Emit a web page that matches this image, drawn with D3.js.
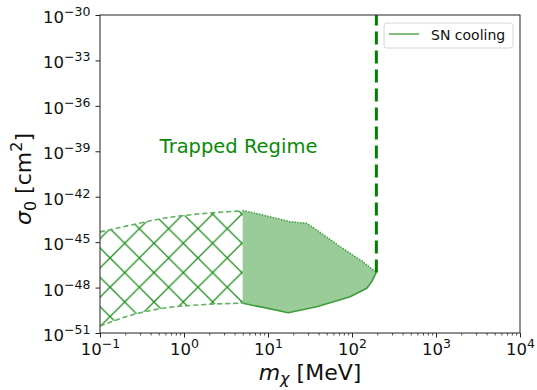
<!DOCTYPE html>
<html>
<head>
<meta charset="utf-8">
<script src="https://cdn.jsdelivr.net/npm/d3@7"></script>
<style>
  body { margin: 0; background: #fff; }
  svg, svg text { font-family: "DejaVu Sans", sans-serif; }
</style>
</head>
<body>
<div id="chart"></div>
<script>
// trapped regime (hatched band)
const trapMass  = [0.1, 0.234, 0.594, 1.47, 5.0];
const trapUpper = [4.7e-45, 1.35e-44, 3.9e-44, 7.2e-44, 1.15e-43];
const trapLower = [2.9e-51, 1.5e-50, 4.5e-50, 7.1e-50, 9.5e-50];

// SN cooling excluded region (filled)
const fillUpperMass = [5.0, 8.7, 18.3, 28.8, 38, 72, 135, 195];
const fillUpper     = [1.23e-43, 6.2e-44, 2.24e-44, 1.74e-44, 6.3e-45, 5.0e-46, 5.1e-47, 1.0e-47];
const fillLowerMass = [5.0, 8.8, 17.4, 38, 95, 150, 171, 195];
const fillLower     = [9.1e-50, 4.9e-50, 2.2e-50, 5.4e-50, 2.5e-49, 8.9e-49, 2.4e-48, 1.0e-47];

const snMass = 195;

const xTicks = [1e-1, 1e0, 1e1, 1e2, 1e3, 1e4];
const yTicks = [1e-51, 1e-48, 1e-45, 1e-42, 1e-39, 1e-36, 1e-33, 1e-30];

const width = 537, height = 390;
const margin = { top: 15, right: 17, bottom: 57, left: 100 };
const iw = width - margin.left - margin.right;
const ih = height - margin.top - margin.bottom;

const svg = d3.select('#chart').append('svg')
  .attr('width', width)
  .attr('height', height);

const defs = svg.append('defs');
// cross hatch, offset so crossings line up with the reference
const hatch = defs.append('pattern')
  .attr('id', 'xhatch')
  .attr('patternUnits', 'userSpaceOnUse')
  .attr('width', 29.3)
  .attr('height', 29.3)
  .attr('x', 124.7 - margin.left)
  .attr('y', 243.3 - margin.top);
hatch.append('path')
  .attr('d', 'M0,0L29.3,29.3M0,29.3L29.3,0M-1,1L1,-1M28.3,30.3L30.3,28.3')
  .attr('stroke', '#1e8f1e')
  .attr('stroke-width', 1.3)
  .attr('fill', 'none');

const clip = defs.append('clipPath').attr('id', 'plotclip');
clip.append('rect').attr('width', iw).attr('height', ih);

const g = svg.append('g')
  .attr('transform', `translate(${margin.left},${margin.top})`);

const x = d3.scaleLog().domain([1e-1, 1e4]).range([0, iw]);
const y = d3.scaleLog().domain([1e-51, 1e-30]).range([ih, 0]);

const plot = g.append('g').attr('clip-path', 'url(#plotclip)');

// hatched band
const trapPts = trapMass.map((m, i) => ({ m, hi: trapUpper[i], lo: trapLower[i] }));
const trapArea = d3.area()
  .x(d => x(d.m))
  .y0(d => y(d.lo))
  .y1(d => y(d.hi))
  .curve(d3.curveMonotoneX);
plot.append('path')
  .datum(trapPts)
  .attr('d', trapArea)
  .attr('fill', 'url(#xhatch)');

const curve = d3.line().x(d => x(d[0])).y(d => y(d[1])).curve(d3.curveMonotoneX);
const line = d3.line().x(d => x(d[0])).y(d => y(d[1]));
[trapUpper, trapLower].forEach(arr => {
  plot.append('path')
    .datum(trapMass.map((m, i) => [m, arr[i]]))
    .attr('d', curve)
    .attr('fill', 'none')
    .attr('stroke', '#5fb05f')
    .attr('stroke-width', 1.6)
    .attr('stroke-dasharray', '5,3');
});

// filled region
const upPts = fillUpperMass.map((m, i) => [m, fillUpper[i]]);
const loPts = fillLowerMass.map((m, i) => [m, fillLower[i]]);
const upPath = line(upPts);
const loRev = line(loPts.slice().reverse());
plot.append('path')
  .attr('d', upPath + 'L' + loRev.slice(1) + 'Z')
  .attr('fill', '#99cc99');
plot.append('path')
  .attr('d', upPath)
  .attr('fill', 'none')
  .attr('stroke', '#3d9d3d')
  .attr('stroke-width', 1.6)
  .attr('stroke-dasharray', '1.4,1.4');
plot.append('path')
  .attr('d', line(loPts))
  .attr('fill', 'none')
  .attr('stroke', '#3d9d3d')
  .attr('stroke-width', 1.6)
  .attr('stroke-linejoin', 'round');

// SN cooling vertical line
plot.append('line')
  .attr('x1', x(snMass)).attr('x2', x(snMass))
  .attr('y1', y(fillUpper[fillUpper.length - 1]))
  .attr('y2', y(1e-30))
  .attr('stroke', '#008000')
  .attr('stroke-width', 3)
  .attr('stroke-dasharray', '13,6');

// text
g.append('text')
  .attr('x', 138.5)
  .attr('y', 138)
  .attr('text-anchor', 'middle')
  .attr('fill', '#0a8a0a')
  .style('font-size', '19.5px')
  .text('Trapped Regime');

// axes
function powLabel(sel, v) {
  const e = Math.round(Math.log10(v));
  sel.text(null);
  sel.append('tspan').text('10');
  sel.append('tspan').attr('dy', -7).style('font-size', '12.5px')
    .text(e < 0 ? '\u2212' + (-e) : String(e));
}

const xMinor = [];
for (let k = -1; k < 4; k++) for (let j = 2; j < 10; j++) xMinor.push(j * Math.pow(10, k));

g.append('g')
  .attr('transform', `translate(0,${ih})`)
  .call(d3.axisBottom(x).tickValues(xMinor).tickSize(2.5).tickFormat(''))
  .call(a => a.select('.domain').remove())
  .call(a => a.selectAll('line').attr('stroke', '#222').attr('stroke-width', 0.8));

const xAxis = g.append('g')
  .attr('transform', `translate(0,${ih})`)
  .call(d3.axisBottom(x).tickValues(xTicks).tickSize(4.5));
xAxis.selectAll('.tick text').each(function (d) { powLabel(d3.select(this), d); })
  .attr('y', 22).attr('dy', 0)
  .style('font-size', '16.5px').attr('fill', '#111');

const yAxis = g.append('g')
  .call(d3.axisLeft(y).tickValues(yTicks).tickSize(4.5).tickPadding(5));
yAxis.selectAll('.tick text').each(function (d) { powLabel(d3.select(this), d); })
  .attr('dy', 7.5)
  .style('font-size', '16.5px').attr('fill', '#111');

[xAxis, yAxis].forEach(a => {
  a.attr('font-family', '"DejaVu Sans", sans-serif');
  a.selectAll('line').attr('stroke', '#222');
  a.select('.domain').remove();
});

g.append('rect')
  .attr('width', iw).attr('height', ih)
  .attr('fill', 'none')
  .attr('stroke', '#222')
  .attr('stroke-width', 1);

// axis labels
const xl = svg.append('text')
  .attr('x', margin.left + iw / 2)
  .attr('y', 380)
  .attr('text-anchor', 'middle')
  .style('font-size', '22px')
  .attr('fill', '#111');
xl.append('tspan').style('font-style', 'italic').text('m');
xl.append('tspan').style('font-style', 'italic').style('font-size', '16px').attr('dy', 4).text('\u03c7');
xl.append('tspan').attr('dy', -4).text(' [MeV]');

const yl = svg.append('text')
  .attr('transform', `translate(31,${margin.top + ih / 2 + 5}) rotate(-90)`)
  .attr('text-anchor', 'middle')
  .style('font-size', '22px')
  .attr('fill', '#111');
yl.append('tspan').style('font-style', 'italic').text('\u03c3');
yl.append('tspan').style('font-size', '16px').attr('dy', 5).text('0');
yl.append('tspan').attr('dy', -5).text(' [cm');
yl.append('tspan').style('font-size', '16px').attr('dy', -9).text('2');
yl.append('tspan').attr('dy', 9).text(']');

// legend
const leg = g.append('g').attr('transform', `translate(${iw - 136},8)`);
leg.append('rect')
  .attr('width', 129).attr('height', 25)
  .attr('rx', 3)
  .attr('fill', '#fff')
  .attr('stroke', '#d6d6d6');
leg.append('line')
  .attr('x1', 5).attr('x2', 35).attr('y1', 11).attr('y2', 11)
  .attr('stroke', '#3d9d3d').attr('stroke-width', 1.3);
leg.append('text')
  .attr('x', 47).attr('y', 16.5)
  .style('font-size', '14px')
  .attr('fill', '#111')
  .text('SN cooling');
</script>
</body>
</html>
